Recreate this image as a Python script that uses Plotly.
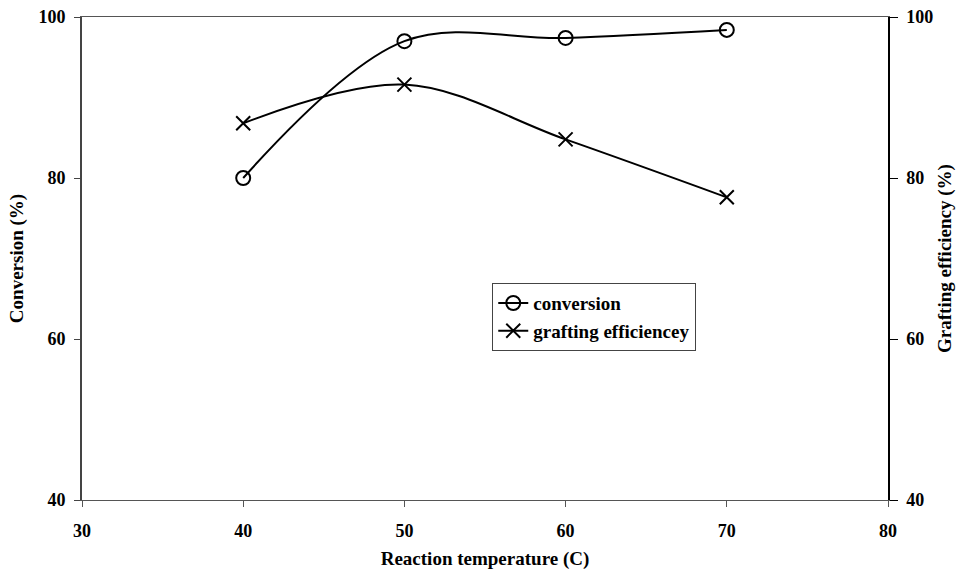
import plotly.graph_objects as go

temperature = [40, 50, 60, 70]
conversion = [80.0, 97.0, 97.4, 98.4]
grafting_efficiency = [86.8, 91.6, 84.8, 77.6]

x_ticks = [30, 40, 50, 60, 70, 80]
y_ticks = [40, 60, 80, 100]

FONT = "Liberation Serif"
fig = go.Figure()

fig.add_trace(go.Scatter(
    x=temperature, y=conversion, name="<b>conversion</b>",
    mode="lines+markers", line=dict(color="black", width=2, shape="spline", smoothing=1.0),
    marker=dict(symbol="circle-open", size=14, color="black", line=dict(width=2)),
))
fig.add_trace(go.Scatter(
    x=temperature, y=grafting_efficiency, name="<b>grafting efficiencey</b>",
    mode="lines+markers", line=dict(color="black", width=2, shape="spline", smoothing=1.0),
    marker=dict(symbol="x-thin-open", size=14, color="black", line=dict(width=2, color="black")),
    yaxis="y2",
))

tick_font = dict(family=FONT, size=18, color="black")
title_font = dict(family=FONT, size=19, color="black")
fig.update_layout(
    width=956, height=571,
    margin=dict(l=82, r=68, t=17, b=71),
    paper_bgcolor="white", plot_bgcolor="white",
    font=dict(family=FONT, size=18, color="black"),
    showlegend=True,
    legend=dict(x=0.509, y=0.449, xanchor="left", yanchor="top",
                bordercolor="#444", borderwidth=1, bgcolor="white",
                font=dict(family=FONT, size=19, color="black"),
                tracegroupgap=0, itemwidth=30),
    xaxis=dict(range=[30, 80], tickvals=x_ticks, ticktext=[f"<b>{v}</b>" for v in x_ticks],
               showgrid=False, zeroline=False, showline=True, linecolor="#555", linewidth=1,
               mirror=True, ticks="outside", ticklen=6, tickcolor="#555",
               tickfont=tick_font, ticklabelstandoff=8, automargin=False,
               title=dict(text="<b>Reaction temperature (C)</b>", font=title_font, standoff=12)),
    yaxis=dict(range=[40, 100], tickvals=y_ticks, ticktext=[f"<b>{v}</b>" for v in y_ticks],
               showgrid=False, zeroline=False, showline=True, linecolor="#444", linewidth=2,
               ticks="outside", ticklen=6, tickcolor="#444", tickfont=tick_font,
               ticklabelstandoff=5, automargin=False,
               title=dict(text="<b>Conversion (%)</b>", font=title_font, standoff=10)),
    yaxis2=dict(range=[40, 100], tickvals=y_ticks, ticktext=[f"<b>{v}</b>" for v in y_ticks],
                overlaying="y", side="right",
                showgrid=False, zeroline=False, showline=True, linecolor="black", linewidth=1.5,
                ticks="outside", ticklen=8, tickcolor="black", tickfont=tick_font,
                ticklabelstandoff=5, automargin=False,
                title=dict(text="<b>Grafting efficiency (%)</b>", font=title_font, standoff=8)),
)

fig.write_html("out.html")
